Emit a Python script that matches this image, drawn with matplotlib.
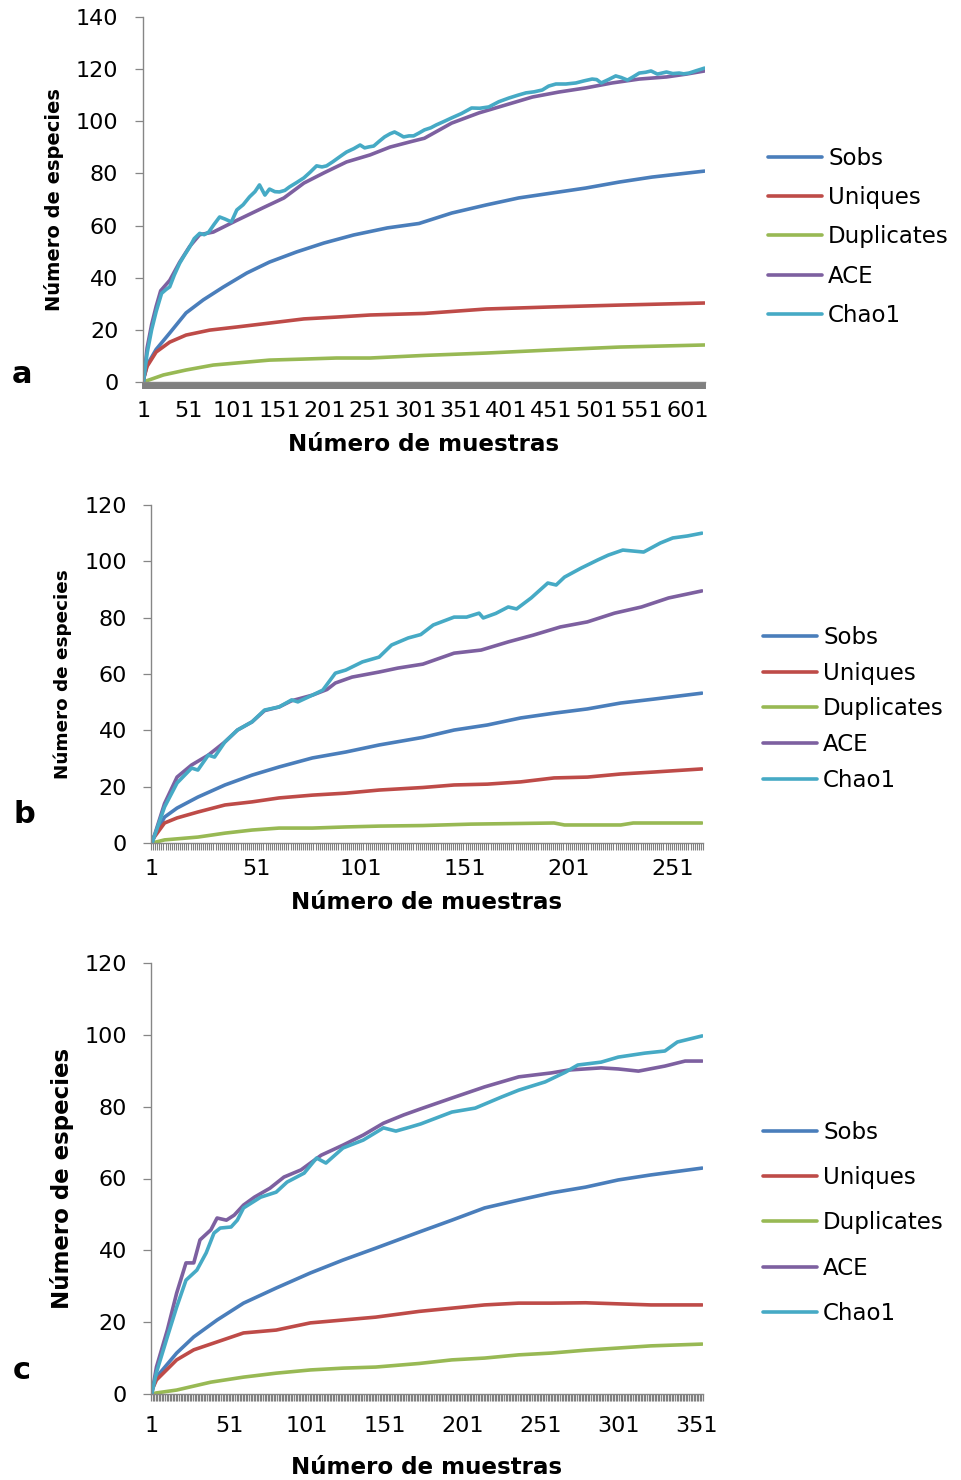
import numpy as np
import matplotlib
matplotlib.use("Agg")
import matplotlib.pyplot as plt

series_names = ["Sobs", "Uniques", "Duplicates", "ACE", "Chao1"]
series_colors = ["#4A7EBB", "#BE4B48", "#98B954", "#7D60A0", "#46AAC5"]

# ---- panel a (620 samples) ----
a_n = 620
a_sobs_x = [1, 5, 15, 30, 48, 67, 89, 115, 140, 170, 200, 233, 270, 305, 341, 379, 415, 452, 489, 526, 562, 620]
a_sobs = [1, 6.5, 12.5, 18.8, 26.5, 31.5, 36.4, 41.8, 46, 49.9, 53.3, 56.4, 59.1, 60.8, 64.8, 67.9, 70.6, 72.5, 74.4, 76.7, 78.6, 80.9]
a_uniq_x = [1, 5, 15, 30, 48, 74, 104, 140, 178, 214, 251, 311, 379, 452, 526, 620]
a_uniq = [1, 6, 11.5, 15.3, 18, 19.9, 21.1, 22.6, 24.2, 24.9, 25.7, 26.3, 28, 28.8, 29.5, 30.3]
a_dup_x = [1, 4, 23, 48, 78, 104, 140, 178, 214, 251, 311, 379, 452, 526, 620]
a_dup = [0, 0.4, 2.7, 4.6, 6.5, 7.3, 8.4, 8.8, 9.2, 9.2, 10.2, 11.1, 12.3, 13.4, 14.2]
a_ace_x = [1, 5, 10, 15, 20, 30, 41, 52, 63, 78, 104, 134, 156, 178, 200, 225, 251, 273, 295, 311,
           341, 371, 401, 430, 459, 489, 518, 548, 578, 600, 620]
a_ace = [0, 13, 22, 29, 35, 39, 46, 52, 56.5, 57.5, 62, 67, 70.6, 76.3, 80.2, 84.4, 87.1, 90.1, 92.1, 93.5,
         99.3, 103.2, 106.3, 109.3, 111.2, 112.8, 114.7, 116.2, 117, 118.1, 119.3]
a_chao_x = [1, 5, 10, 15, 21, 26, 30, 35, 41, 46, 52, 57, 63, 68, 73, 79, 85, 91, 98, 104, 111, 118, 124,
            129, 135, 140, 146, 151, 157, 162, 170, 178, 185, 192, 198, 203, 210, 218, 225, 233, 240, 245,
            250, 255, 261, 267, 273, 278, 283, 288, 294, 299, 305, 311, 318, 324, 333, 341, 352, 363, 372,
            382, 393, 404, 414, 423, 432, 441, 448, 456, 467, 478, 487, 496, 501, 506, 514, 522, 528, 535,
            541, 548, 555, 561, 568, 573, 578, 585, 592, 597, 603, 610, 620]
a_chao = [0, 11, 20, 27, 34, 35.5, 36.5, 41, 45.6, 48.5, 51.8, 55, 57, 56.5, 57.5, 60.5, 63.3, 62.5, 61.4,
          66, 68, 71, 73, 75.6, 71.7, 74, 73, 72.9, 73.5, 74.8, 76.5, 78.3, 80.5, 82.9, 82.5, 82.9, 84.5,
          86.5, 88.2, 89.5, 90.9, 89.8, 90.2, 90.5, 92.3, 94, 95.2, 95.9, 95, 94, 94.4, 94.4, 95.5, 96.7,
          97.5, 98.6, 100, 101.3, 103, 105.1, 105, 105.5, 107.5, 108.9, 110, 110.9, 111.3, 112, 113.5,
          114.3, 114.3, 114.7, 115.5, 116.2, 116, 114.7, 116, 117.4, 116.8, 115.8, 117, 118.5, 118.8,
          119.3, 118.1, 118.5, 118.9, 118.3, 118.5, 118.2, 118.5, 119.3, 120.4]

# ---- panel b (265 samples) ----
b_n = 265
b_sobs_x = [1, 7, 13, 23, 36, 49, 62, 78, 94, 110, 131, 146, 162, 178, 194, 210, 226, 242, 265]
b_sobs = [1, 9.2, 12.4, 16.3, 20.6, 24.1, 27, 30.2, 32.3, 34.8, 37.5, 40.1, 41.9, 44.4, 46.1, 47.6, 49.7, 51.1, 53.2]
b_uniq_x = b_sobs_x
b_uniq = [1, 7.1, 8.9, 11, 13.5, 14.6, 16, 17, 17.7, 18.8, 19.7, 20.6, 20.9, 21.7, 23.1, 23.4, 24.5, 25.2, 26.3]
b_dup_x = [1, 7, 23, 36, 49, 62, 78, 94, 110, 131, 154, 194, 199, 226, 232, 265]
b_dup = [0, 1.1, 2.1, 3.5, 4.6, 5.3, 5.3, 5.7, 6, 6.2, 6.7, 7.1, 6.4, 6.4, 7.1, 7.1]
b_ace_x = [1, 7, 13, 20, 28, 36, 42, 49, 55, 62, 68, 78, 85, 89, 97, 110, 119, 131, 146, 159, 172, 184,
           197, 210, 223, 236, 249, 265]
b_ace = [0, 14, 23.4, 27.7, 31.2, 35.9, 40.1, 43, 47, 48.3, 50.5, 52.5, 54.5, 56.8, 58.9, 60.7, 62.1, 63.5,
         67.4, 68.5, 71.4, 73.8, 76.7, 78.5, 81.6, 83.8, 87, 89.5]
b_chao_x = [1, 7, 13, 20, 23, 28, 31, 36, 42, 49, 55, 62, 68, 71, 78, 83, 89, 94, 102, 110, 116, 124, 130,
            136, 146, 152, 158, 160, 166, 172, 176, 183, 191, 195, 199, 207, 215, 220, 227, 237, 245, 251,
            258, 265]
b_chao = [0, 12.8, 21.3, 26.6, 25.9, 31.2, 30.5, 35.9, 40.1, 43, 47.2, 48.3, 50.8, 50.1, 52.5, 54.3, 60.3,
          61.4, 64.3, 66, 70.3, 72.8, 74, 77.4, 80.2, 80.2, 81.6, 79.9, 81.5, 83.8, 83.1, 87, 92.3, 91.6,
          94.4, 97.6, 100.5, 102.2, 104, 103.3, 106.5, 108.3, 109, 110]

# ---- panel c (355 samples) ----
c_n = 355
c_sobs_x = [1, 4, 17, 28, 43, 60, 81, 103, 124, 145, 173, 194, 215, 237, 258, 280, 301, 322, 355]
c_sobs = [1, 4.7, 11.4, 15.9, 20.6, 25.3, 29.5, 33.7, 37.3, 40.6, 45.1, 48.4, 51.8, 54, 56, 57.6, 59.6, 61, 62.9]
c_uniq_x = c_sobs_x
c_uniq = [1, 3.9, 9.5, 12.3, 14.5, 17, 17.8, 19.8, 20.6, 21.4, 23, 23.9, 24.8, 25.3, 25.3, 25.4, 25.1, 24.8, 24.8]
c_dup_x = [1, 4, 17, 39, 60, 81, 103, 124, 145, 173, 194, 215, 237, 258, 280, 301, 322, 355]
c_dup = [0, 0.3, 1.1, 3.3, 4.7, 5.8, 6.7, 7.2, 7.5, 8.5, 9.5, 10, 10.9, 11.4, 12.2, 12.8, 13.4, 13.9]
c_ace_x = [1, 4, 11, 17, 23, 28, 32, 39, 43, 49, 54, 60, 67, 77, 86, 97, 110, 124, 137, 150, 163, 174,
           194, 215, 237, 258, 269, 290, 301, 314, 331, 344, 355]
c_ace = [0, 7.5, 17.8, 28.1, 36.5, 36.5, 42.9, 45.7, 49, 48.4, 49.8, 52.6, 54.8, 57.3, 60.4, 62.4, 66.5,
         69.3, 72.1, 75.4, 77.7, 79.4, 82.4, 85.5, 88.3, 89.4, 90.2, 90.8, 90.5, 89.9, 91.3, 92.7, 92.7]
c_chao_x = [1, 4, 11, 17, 23, 30, 36, 41, 45, 52, 56, 60, 71, 81, 88, 99, 107, 113, 124, 137, 150, 158,
            167, 174, 194, 209, 226, 237, 254, 267, 275, 290, 301, 318, 331, 339, 355]
c_chao = [0, 6, 15.9, 24.2, 31.7, 34.5, 39.3, 44.8, 46.2, 46.5, 48.4, 51.8, 54.8, 56.2, 59, 61.5, 65.7,
          64.3, 68.5, 70.7, 74.1, 73.2, 74.3, 75.2, 78.5, 79.6, 82.7, 84.6, 86.9, 89.6, 91.6, 92.4, 93.8,
          94.9, 95.5, 98, 99.7]

a_xticklabels = list(range(1, 602, 50))
b_xticklabels = list(range(1, 252, 50))
c_xticklabels = list(range(1, 352, 50))

GRAY = "#868686"

fig = plt.figure(figsize=(9.62, 14.8), dpi=100)


def draw_panel(rect, n, series, ymax, xticks, letter, letter_pos, ylab_size, ylab_x, xlab_y,
               xpad, ypad, leg_pos, leg_spacing, minor_w):
    ax = fig.add_axes(rect)
    for (xs, ys), name, col in zip(series, series_names, series_colors):
        ax.plot(xs, ys, color=col, lw=2.6, label=name,
                solid_joinstyle="round", solid_capstyle="round")
    ax.set_xlim(0.5, n + 0.5)
    ax.set_ylim(0, ymax)
    ax.set_yticks(np.arange(0, ymax + 1, 20))
    ax.set_xticks(xticks)
    ax.set_xticklabels([str(t) for t in xticks])
    ax.set_xticks(np.arange(0.5, n + 1, 1.0), minor=True)
    for s in ["top", "right"]:
        ax.spines[s].set_visible(False)
    for s in ["left", "bottom"]:
        ax.spines[s].set_color(GRAY)
        ax.spines[s].set_linewidth(1.0)
    ax.tick_params(axis="y", direction="out", length=5.8, width=0.9, color=GRAY,
                   labelsize=16, pad=ypad)
    ax.tick_params(axis="x", which="major", length=0, labelsize=16, pad=xpad)
    ax.tick_params(axis="x", which="minor", direction="out", length=5, width=minor_w, color="#808080")
    ax.set_ylabel("Número de especies", fontsize=ylab_size, fontweight="bold")
    ax.yaxis.set_label_coords(ylab_x, 0.5)
    ax.set_xlabel("Número de muestras", fontsize=16.6, fontweight="bold", va="top")
    ax.xaxis.set_label_coords(0.5, xlab_y)
    ax.legend(loc="center left", bbox_to_anchor=leg_pos, bbox_transform=fig.transFigure,
              frameon=False, fontsize=16.5, handlelength=2.36, handletextpad=0.26,
              labelspacing=leg_spacing, borderpad=0, borderaxespad=0)
    fig.text(letter_pos[0], letter_pos[1], letter, fontsize=22, fontweight="bold",
             ha="left", va="baseline")
    return ax


W, H = 962.0, 1480.0

draw_panel([143 / W, 1 - 382 / H, 562 / W, 365 / H], a_n,
           [(a_sobs_x, a_sobs), (a_uniq_x, a_uniq), (a_dup_x, a_dup), (a_ace_x, a_ace), (a_chao_x, a_chao)],
           140, a_xticklabels, "a", (12 / W, 1 - 383 / H), 14, -0.141, -0.139, 13.7, 12,
           (768 / W, 1 - 237 / H), 0.70, 1.4)

draw_panel([151 / W, 1 - 843 / H, 552 / W, 338 / H], b_n,
           [(b_sobs_x, b_sobs), (b_uniq_x, b_uniq), (b_dup_x, b_dup), (b_ace_x, b_ace), (b_chao_x, b_chao)],
           120, b_xticklabels, "b", (13 / W, 1 - 823 / H), 13.2, -0.143, -0.142, 11.7, 11.5,
           (763 / W, 1 - 709 / H), 0.56, 0.8)

draw_panel([151 / W, 1 - 1394 / H, 552 / W, 431 / H], c_n,
           [(c_sobs_x, c_sobs), (c_uniq_x, c_uniq), (c_dup_x, c_dup), (c_ace_x, c_ace), (c_chao_x, c_chao)],
           120, c_xticklabels, "c", (13 / W, 1 - 1379 / H), 16.5, -0.139, -0.144, 16, 11.5,
           (763 / W, 1 - 1223 / H), 0.97, 0.9)

fig.savefig("out.png", dpi=100)
